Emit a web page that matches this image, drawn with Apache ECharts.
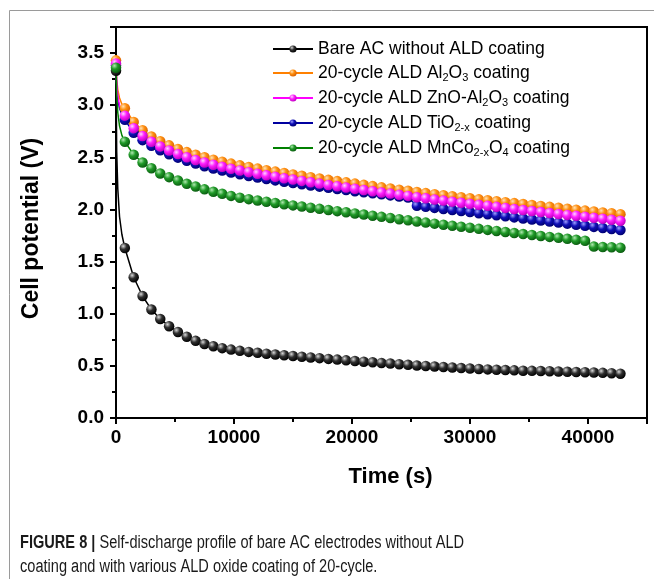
<!DOCTYPE html>
<html>
<head>
<meta charset="utf-8">
<script src="https://cdn.jsdelivr.net/npm/echarts@6/dist/echarts.min.js"></script>
<style>
html,body{margin:0;padding:0;background:#fff;}
#c{width:654px;height:579px;}
</style>
</head>
<body>
<div id="c"></div>
<script>
// ---- data ----
var seriesNames = [
  'Bare AC without ALD coating',
  '20-cycle ALD Al2O3 coating',
  '20-cycle ALD ZnO-Al2O3 coating',
  '20-cycle ALD TiO2-x coating',
  '20-cycle ALD MnCo2-xO4 coating'
];
// sampled times (s) carrying markers
var timeS = [0,750,1500,2250,3000,3750,4500,5250,6000,6750,7500,8250,9000,9750,10500,11250,12000,12750,13500,14250,
  15000,15750,16500,17250,18000,18750,19500,20250,21000,21750,22500,23250,24000,24750,25500,26250,27000,27750,28500,29250,
  30000,30750,31500,32250,33000,33750,34500,35250,36000,36750,37500,38250,39000,39750,40500,41250,42000,42750];
// early transient readings between the first two markers (no marker drawn)
var earlyTimeS = [60,150,300,500];
var bareEarly    = [2.55,2.20,1.93,1.76];
var al2o3Early   = [3.25,3.15,3.07,3.01];
var znoEarly     = [3.20,3.09,3.00,2.94];
var tioEarly     = [3.18,3.06,2.97,2.91];
var mncoEarly    = [3.10,2.93,2.80,2.71];

var bareV = [3.33,1.63,1.35,1.17,1.04,0.95,0.88,0.825,0.78,0.74,0.71,0.688,0.67,0.656,0.644,0.634,0.625,0.617,0.609,0.602,
  0.595,0.588,0.581,0.574,0.567,0.560,0.553,0.546,0.540,0.534,0.528,0.522,0.516,0.510,0.504,0.499,0.494,0.489,0.484,0.479,
  0.474,0.470,0.466,0.463,0.460,0.457,0.454,0.452,0.450,0.448,0.446,0.443,0.441,0.439,0.436,0.433,0.430,0.425];
var al2o3V = [3.43,2.97,2.84,2.76,2.70,2.655,2.615,2.58,2.55,2.524,2.50,2.478,2.458,2.44,2.423,2.407,2.392,2.377,2.363,2.349,
  2.336,2.323,2.31,2.297,2.284,2.272,2.26,2.248,2.236,2.224,2.212,2.201,2.19,2.179,2.168,2.157,2.147,2.137,2.127,2.117,
  2.107,2.097,2.088,2.079,2.07,2.061,2.052,2.043,2.034,2.025,2.016,2.007,1.998,1.989,1.98,1.971,1.963,1.955];
var znoV = [3.40,2.90,2.78,2.705,2.65,2.605,2.566,2.531,2.501,2.475,2.451,2.429,2.409,2.391,2.374,2.358,2.343,2.328,2.314,2.30,
  2.287,2.274,2.261,2.248,2.235,2.223,2.211,2.199,2.187,2.175,2.163,2.152,2.141,2.13,2.118,2.107,2.096,2.085,2.075,2.065,
  2.055,2.045,2.035,2.025,2.015,2.005,1.995,1.985,1.975,1.966,1.957,1.948,1.939,1.93,1.921,1.912,1.902,1.892];
var tioV = [3.38,2.86,2.735,2.665,2.61,2.567,2.53,2.497,2.467,2.44,2.415,2.393,2.373,2.355,2.337,2.321,2.306,2.292,2.279,2.266,
  2.254,2.242,2.23,2.219,2.208,2.197,2.186,2.175,2.165,2.155,2.145,2.135,2.125,2.115,2.035,2.025,2.015,2.005,1.995,1.985,
  1.975,1.964,1.954,1.944,1.934,1.924,1.914,1.904,1.894,1.884,1.874,1.864,1.854,1.843,1.833,1.823,1.813,1.803];
var mncoV = [3.36,2.65,2.525,2.45,2.396,2.345,2.31,2.277,2.247,2.22,2.193,2.17,2.15,2.13,2.113,2.099,2.086,2.074,2.062,2.05,
  2.039,2.028,2.017,2.006,1.995,1.984,1.973,1.962,1.951,1.940,1.929,1.918,1.907,1.896,1.885,1.874,1.864,1.854,1.844,1.834,
  1.824,1.814,1.804,1.794,1.784,1.774,1.764,1.755,1.746,1.737,1.728,1.719,1.710,1.700,1.645,1.640,1.637,1.633];

var yTickLabels = ['0.0','0.5','1.0','1.5','2.0','2.5','3.0','3.5'];
var xTickLabels = ['0','10000','20000','30000','40000'];

// ---- chart ----
var legendRich = {
  'Bare AC without ALD coating': 'Bare AC without ALD coating',
  '20-cycle ALD Al2O3 coating': '20-cycle ALD Al{s|2}O{s|3} coating',
  '20-cycle ALD ZnO-Al2O3 coating': '20-cycle ALD ZnO-Al{s|2}O{s|3} coating',
  '20-cycle ALD TiO2-x coating': '20-cycle ALD TiO{s|2-x} coating',
  '20-cycle ALD MnCo2-xO4 coating': '20-cycle ALD MnCo{s|2-x}O{s|4} coating'
};

function sphere(hi, base, dark) {
  return {type:'radial', x:0.35, y:0.32, r:0.7, colorStops:[
    {offset:0, color:hi},{offset:0.45, color:base},{offset:1, color:dark}]};
}
var styles = [
  {line:'#000000', ball:sphere('#d8d8d8','#303030','#000000')},
  {line:'#ff8000', ball:sphere('#ffe2b8','#ff9010','#d86000')},
  {line:'#ff00ff', ball:sphere('#ffd6ff','#ff20ff','#c000c0')},
  {line:'#0000a0', ball:sphere('#a0a0ff','#1010b8','#000070')},
  {line:'#008000', ball:sphere('#b0e8b0','#209a28','#0a5c10')}
];
var mainVals = [bareV, al2o3V, znoV, tioV, mncoV];
var earlyVals = [bareEarly, al2o3Early, znoEarly, tioEarly, mncoEarly];

function buildData(early, main) {
  var d = [{value:[timeS[0], main[0]]}];
  for (var i = 0; i < earlyTimeS.length; i++) d.push({value:[earlyTimeS[i], early[i]], symbol:'none'});
  for (var j = 1; j < timeS.length; j++) d.push({value:[timeS[j], main[j]]});
  return d;
}
// draw order: black, orange, blue, magenta, green (magenta sits over blue)
var drawOrder = [0,1,3,2,4];
var series = drawOrder.map(function(k){
  return {
    name: seriesNames[k], type:'line',
    data: buildData(earlyVals[k], mainVals[k]),
    symbol:'circle', symbolSize:10.5,
    lineStyle:{color:styles[k].line, width:1.5},
    itemStyle:{color:styles[k].ball, borderWidth:0},
    emphasis:{disabled:true},
    z: 2
  };
});

var FONT = 'Liberation Sans, Arial, Helvetica, sans-serif';
var CAP_FONT = 'Liberation Sans, Arial, sans-serif';
var chart = echarts.init(document.getElementById('c'), null, {renderer:'canvas'});
chart.setOption({
  animation:false,
  backgroundColor:'#fff',
  grid:{left:116, right:7, top:27, bottom:161, show:true, borderColor:'#000', borderWidth:2, backgroundColor:'transparent'},
  legend:{
    data: seriesNames,
    orient:'vertical', left:267, top:35,
    itemWidth:40, itemHeight:9, itemGap:5,
    formatter:function(n){ return legendRich[n]; },
    textStyle:{fontFamily:FONT, fontSize:17.5, color:'#000', lineHeight:17,
      rich:{ s:{fontFamily:FONT, fontSize:11, lineHeight:13, padding:[9,0,0,0], color:'#000'} } }
  },
  xAxis:{
    type:'value', min:0, max:45000, interval:10000,
    name:'Time (s)', nameLocation:'middle', nameGap:48,
    nameTextStyle:{fontFamily:FONT, fontSize:22, fontWeight:'bold', color:'#000', padding:[0,0,0,18]},
    axisLine:{show:true, onZero:false, lineStyle:{color:'#000', width:2}},
    axisTick:{show:true, inside:false, length:6, lineStyle:{color:'#000', width:2}},
    minorTick:{show:true, splitNumber:2, length:4, lineStyle:{color:'#000', width:2}},
    splitLine:{show:false},
    axisLabel:{fontFamily:FONT, fontSize:19, fontWeight:'bold', color:'#000', margin:10,
      formatter:function(v){ var i = Math.round(v/10000); return xTickLabels[i] !== undefined && v % 10000 === 0 ? xTickLabels[i] : ''; }}
  },
  yAxis:{
    type:'value', min:0, max:3.75, interval:0.5,
    name:'Cell potential (V)', nameLocation:'middle', nameGap:73, nameRotate:90,
    nameTextStyle:{fontFamily:FONT, fontSize:23, fontWeight:'bold', color:'#000', padding:[0,12,0,0]},
    axisLine:{show:true, onZero:false, lineStyle:{color:'#000', width:2}},
    axisTick:{show:true, inside:false, length:6, lineStyle:{color:'#000', width:2}},
    minorTick:{show:true, splitNumber:2, length:4, lineStyle:{color:'#000', width:2}},
    splitLine:{show:false},
    axisLabel:{fontFamily:FONT, fontSize:19, fontWeight:'bold', color:'#000', margin:12,
      formatter:function(v){ var i = Math.round(v/0.5); return yTickLabels[i] !== undefined ? yTickLabels[i] : ''; }}
  },
  series: series,
  graphic:[
    {type:'line', shape:{x1:9.5, y1:10.5, x2:654, y2:10.5}, style:{stroke:'#9a9a9a', lineWidth:1}, silent:true},
    {type:'line', shape:{x1:9.5, y1:10.5, x2:9.5, y2:579}, style:{stroke:'#9a9a9a', lineWidth:1}, silent:true},
    {type:'text', x:20, y:534, scaleX:0.81, silent:true,
      style:{text:'{b|FIGURE 8 |} Self-discharge profile of bare AC electrodes without ALD',
        fontFamily:CAP_FONT, fontSize:18, fill:'#1a1a1a',
        rich:{b:{fontFamily:CAP_FONT, fontSize:18, fontWeight:'bold', fill:'#1a1a1a'}}}},
    {type:'text', x:20, y:558, scaleX:0.81, silent:true,
      style:{text:'coating and with various ALD oxide coating of 20-cycle.',
        fontFamily:CAP_FONT, fontSize:18, fill:'#1a1a1a'}}
  ]
});
</script>
</body>
</html>
